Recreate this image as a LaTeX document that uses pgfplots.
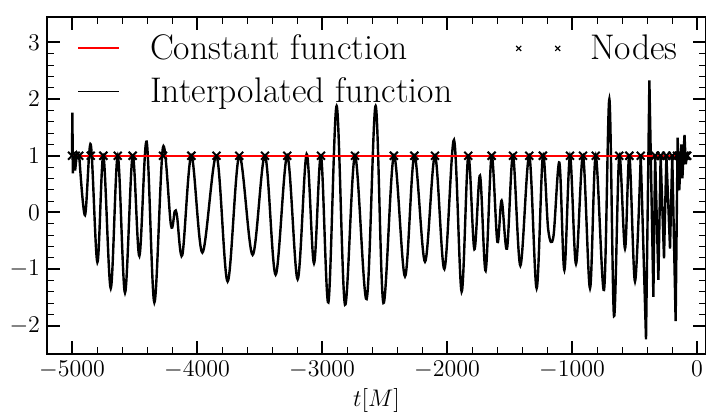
\documentclass[border=0pt]{standalone}
\usepackage{fontspec}
\usepackage{pgfplots}
\pgfplotsset{compat=1.18}

\pgfplotsset{
  short line legend/.style={
    legend image code/.code={\draw[##1] (0pt,0pt) -- (20.5pt,0pt);}},
  two marks legend/.style={
    legend image code/.code={\draw[##1, mark repeat=1, mark phase=1]
      plot coordinates {(0pt,0pt) (19.5pt,0pt)};}},
}

% start of the waveform: short, sharp transient
\pgfplotstableread{
x y
-5000 1.00
-4997 1.76
-4993 0.69
-4985 1.02
-4975 0.74
-4960 1.05
-4942 1.00
}\wavestart

% main inspiral oscillation (extrema)
\pgfplotstableread{
x y
-4942 1.00
-4896 -0.05
-4850 1.20
-4797 -0.88
-4749 1.00
-4690 -1.34
-4634 1.00
-4576 -1.42
-4515 1.00
-4461 -0.77
-4403 1.25
-4341 -1.59
-4272 1.15
-4208 -0.23
-4178 0.02
-4160 -0.06
-4117 -0.75
-4045 1.00
-3957 -0.71
-3844 1.00
-3755 -1.22
-3662 1.00
-3555 -0.75
-3456 1.00
-3371 -1.10
-3278 1.00
-3195 -1.18
-3123 1.03
-3064 -0.90
-3008 1.00
-2949 -1.59
-2883 1.88
-2816 -1.63
-2736 1.00
-2643 -1.53
-2571 1.88
-2509 -1.60
-2425 1.00
-2336 -1.13
-2261 1.00
-2176 -0.87
-2096 1.00
-2021 -1.00
-1944 1.28
-1883 -1.40
-1830 1.00
-1781 -0.65
-1736 0.65
-1691 -1.03
-1643 1.00
-1597 -0.52
-1563 0.21
-1520 -0.64
-1472 1.00
-1413 -0.94
-1342 1.00
-1283 -1.34
-1233 1.00
-1190 -0.31
-1149 -0.43
-1101 0.88
-1061 -1.02
-1016 1.00
-968 -0.91
-912 1.00
-856 -1.34
-810 1.00
-744 -1.37
-701 2.00
-664 -1.83
-622 1.00
-576 -0.64
-541 1.00
-496 -1.22
-450 1.00
}\wavemid

% final merger: sparse, spiky samples
\pgfplotstableread{
x y
-450 1.00
-408 -2.24
-381 2.33
-349 -1.49
-335 1.00
-309 -1.19
-291 1.00
-264 -0.81
-245 1.00
-216 -0.64
-198 1.00
-171 -1.92
-155 1.32
-142 0.39
-125 1.20
-117 0.60
-100 1.37
-90 0.85
-80 1.00
}\waveend

% interpolation nodes
\pgfplotstableread{
x y
-5000 1
-4970 1
-4942 1
-4850 1
-4749 1
-4634 1
-4515 1
-4272 1
-4045 1
-3844 1
-3662 1
-3456 1
-3278 1
-3008 1
-2736 1
-2425 1
-2261 1
-2096 1
-1830 1
-1643 1
-1472 1
-1342 1
-1233 1
-1016 1
-912 1
-810 1
-622 1
-541 1
-450 1
-335 1
-291 1
-245 1
-198 1
-160 1
-140 1
-120 1
-100 1
-88 1
-78 1
}\nodes

\begin{document}
\begin{tikzpicture}
\begin{axis}[
  scale only axis,
  width=329.5pt, height=168.5pt,
  xmin=-5200, xmax=72,
  ymin=-2.5, ymax=3.45,
  xtick={-5000,-4000,-3000,-2000,-1000,0},
  ytick={-2,-1,0,1,2,3},
  minor x tick num=4,
  minor y tick num=4,
  tick align=inside,
  tick pos=both,
  major tick length=6.5pt,
  minor tick length=3.5pt,
  major tick style={line width=1pt, black},
  minor tick style={line width=0.5pt, black},
  axis line style={line width=0.8pt},
  tick label style={font=\fontsize{12.8}{15}\selectfont},
  label style={font=\fontsize{12.8}{15}\selectfont},
  xticklabel style={/pgf/number format/1000 sep={}},
  scaled x ticks=false,
  xlabel={$t[M]$},
  xlabel style={yshift=2pt},
  legend columns=2,
  legend cell align=left,
  legend style={
    draw=none, fill=none,
    font=\fontsize{17.8}{21}\selectfont,
    at={(0,1)}, anchor=north west,
    xshift=12pt, yshift=-4.5pt,
    row sep=3.5pt,
    /tikz/every odd column/.append style={column sep=13pt},
    /tikz/every even column/.append style={column sep=30pt},
  },
]
% legend entries, filled row by row
\addlegendimage{color=red, line width=0.9pt, short line legend}
\addlegendentry{Constant function}
\addlegendimage{color=black, only marks, mark=x, mark size=1.8pt, line width=0.6pt, two marks legend}
\addlegendentry{Nodes}
\addlegendimage{color=black, line width=0.6pt, short line legend}
\addlegendentry{Interpolated function}

% interpolated waveform
\addplot[black, line width=1.2pt, forget plot] table[x=x, y=y] {\wavestart};
\addplot[black, line width=1.2pt, smooth, tension=0.55, forget plot]
  table[x=x, y=y] {\wavemid};
\addplot[black, line width=1.2pt, forget plot] table[x=x, y=y] {\waveend};

% constant function
\addplot[red, line width=0.9pt, forget plot]
  coordinates {(-5000,1) (-78,1)};

% nodes
\addplot[black, only marks, mark=x, mark size=2.8pt, line width=1pt, forget plot]
  table[x=x, y=y] {\nodes};
\end{axis}
\pgfresetboundingbox
\path (current axis.south west) ++(-23.5pt,-32pt) rectangle ([yshift=8.5pt]current axis.north east);
\end{tikzpicture}
\end{document}
